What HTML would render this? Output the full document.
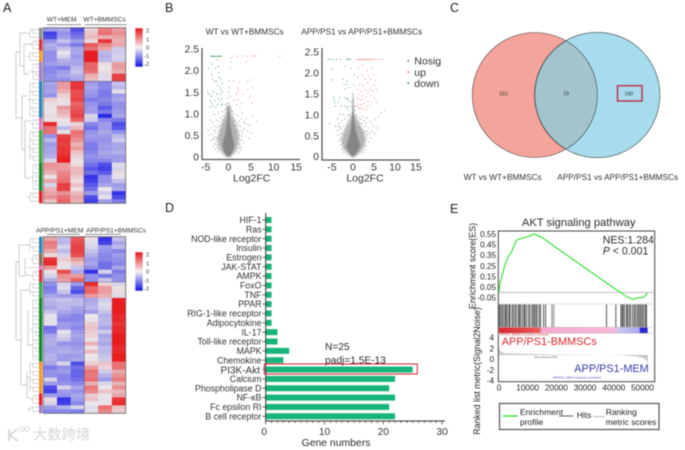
<!DOCTYPE html>
<html lang="en">
<head>
<meta charset="utf-8">
<title>Multi-panel figure</title>
<style>
html,body{margin:0;padding:0;background:#fff;width:685px;height:450px;overflow:hidden}
svg{display:block;filter:blur(0.5px)}
text{font-family:"Liberation Sans","Noto Sans CJK SC",sans-serif;fill:#2b2b2b}
.panel{font-size:12.5px;fill:#222}
.vt{font-size:10.3px;fill:#333}
.cat{font-size:8.8px;text-anchor:end;fill:#333}
.gs{font-size:8.2px;fill:#222}
.ttl{font-size:8.25px;fill:#333}
.hm{font-size:6.7px;fill:#333}
.cb{font-size:5.8px;fill:#333}
</style>
</head>
<body>
<svg id="fig" xmlns="http://www.w3.org/2000/svg" width="685" height="450" viewBox="0 0 685 450">
  <defs>
    <filter id="soft" x="-30%" y="-30%" width="160%" height="160%"><feGaussianBlur stdDeviation="1.4"/></filter>
    <filter id="softCore" x="-30%" y="-30%" width="160%" height="160%"><feGaussianBlur stdDeviation="0.6"/></filter>
  </defs>
  <text class="panel" x="3" y="12">A</text>
  <text class="panel" x="165" y="12">B</text>
  <text class="panel" x="450" y="12">C</text>
  <text class="panel" x="165" y="212">D</text>
  <text class="panel" x="450" y="213">E</text>

  <g id="panelA">
    <text class="hm" x="46.7" y="21.5">WT+MEM</text>
    <text class="hm" x="83.3" y="21.5">WT+BMMSCs</text>
    <path d="M46.7 24.7H81M85 24.7H126.7" stroke="#555" stroke-width="0.7" fill="none"/>
    <text class="hm" x="36" y="232.5">APP/PS1+MEM</text>
    <text class="hm" x="86" y="232.5">APP/PS1+BMMSCs</text>
    <path d="M46.7 234.3H80M85 234.3H120.7" stroke="#555" stroke-width="0.7" fill="none"/>
    <path fill="none" stroke="#999" stroke-width="0.5" d="M16 52V118M16 52H20M16 118H22M20 33V66M20 33H27M20 66H24M24 44H32M24 44V74M24 74H29M22 96V150M22 96H27M22 150H25M25 121V178M25 121H31M25 178H29"/>
    <path fill="none" stroke="#999" stroke-width="0.5" d="M16 262V340M16 262H19M16 340H21M19 245V276M19 245H29M19 276H25M25 258V275H30M21 290V385M21 290H28M21 385H27M27 372V398H31M28 310V345H33"/>
    <text class="cb" x="146" y="32.3">2</text>
    <text class="cb" x="146" y="41.3">1</text>
    <text class="cb" x="146" y="49.7">0</text>
    <text class="cb" x="144" y="58">-1</text>
    <text class="cb" x="144" y="66">-2</text>
    <text class="cb" x="146" y="256.7">2</text>
    <text class="cb" x="146" y="265.7">1</text>
    <text class="cb" x="146" y="273.7">0</text>
    <text class="cb" x="144" y="282.3">-1</text>
    <text class="cb" x="144" y="290.3">-2</text>
    <defs>
      <linearGradient id="cbg" x1="0" y1="0" x2="0" y2="1">
        <stop offset="0" stop-color="#e8141a"/><stop offset="0.5" stop-color="#f4f2f4"/><stop offset="1" stop-color="#1414e8"/>
      </linearGradient>
    </defs>
    <rect x="135.3" y="28.3" width="7.4" height="38.4" fill="url(#cbg)"/>
    <rect x="135.3" y="252.3" width="7.4" height="38.4" fill="url(#cbg)"/>
  </g>

  <g id="panelB">
    <text class="ttl" x="205.7" y="34.5">WT vs WT+BMMSCs</text>
    <text class="ttl" x="301.3" y="34.5">APP/PS1 vs APP/PS1+BMMSCs</text>
    <text class="vt" x="251.7" y="181.5" text-anchor="middle" style="font-size:10.5px">Log2FC</text>
    <text class="vt" x="365" y="181.5" text-anchor="middle" style="font-size:10.5px">Log2FC</text>
    <circle cx="408.3" cy="60.7" r="1" fill="#888"/>
    <circle cx="408.3" cy="72" r="1" fill="#ee6a6a"/>
    <circle cx="408.3" cy="83" r="1" fill="#2f9e4f"/>
    <text class="vt" x="414.3" y="64.5" style="font-size:10.5px">Nosig</text>
    <text class="vt" x="414.3" y="75.8" style="font-size:10.5px">up</text>
    <text class="vt" x="414.3" y="86.8" style="font-size:10.5px">down</text>
  </g>

  <g id="panelC">
    <circle cx="534.8" cy="95" r="62.5" fill="#f4a49a" stroke="#444" stroke-width="0.6"/>
    <circle cx="597.2" cy="95" r="62.7" fill="#a6dcec" stroke="#444" stroke-width="0.6"/>
    <path d="M566 40.8A62.5 62.5 0 0 1 566 149.2A62.7 62.7 0 0 1 566 40.8Z" fill="#a3c3cd" stroke="#3b4a4d" stroke-width="0.6"/>
    <text x="503.3" y="95.3" text-anchor="middle" style="font-family:'Liberation Serif',serif;font-size:5.8px">103</text>
    <text x="566" y="95.3" text-anchor="middle" style="font-family:'Liberation Serif',serif;font-size:5.8px">19</text>
    <text x="628.7" y="95.3" text-anchor="middle" style="font-family:'Liberation Serif',serif;font-size:5.8px">180</text>
    <rect x="617.5" y="85.7" width="24.5" height="15.3" fill="none" stroke="#c2203c" stroke-width="1.3"/>
    <text class="ttl" x="463.7" y="180">WT vs WT+BMMSCs</text>
    <text class="ttl" x="557.3" y="180">APP/PS1 vs APP/PS1+BMMSCs</text>
  </g>

  <g id="panelD">
    <text x="325" y="350" style="font-size:10.2px">N=25</text>
    <text x="325" y="363.5" style="font-size:10.2px">padj=1.5E-13</text>
    <text x="336" y="446" text-anchor="middle" style="font-size:10.4px">Gene numbers</text>
  </g>

  <g id="panelE">
    <text x="578.7" y="226" text-anchor="middle" style="font-size:11.2px">AKT signaling pathway</text>
    <rect x="498.3" y="231" width="156.4" height="150.7" fill="#fff" stroke="#444" stroke-width="1"/>
    <text x="602.7" y="243.7" style="font-size:10.6px">NES:1.284</text>
    <text x="602.7" y="254.7" style="font-size:10.6px"><tspan font-style="italic">P</tspan> &lt; 0.001</text>
    <text class="gs" transform="translate(475.5,266) rotate(-90)" text-anchor="middle" style="font-size:8.8px">Enrichment score(ES)</text>
    <text class="gs" transform="translate(480,371) rotate(-90)" text-anchor="middle" style="font-size:8.8px">Ranked list metric(Signal2Noise)</text>
    <text x="500" y="335.4" style="font-size:2.6px;fill:#c33">APP/PS1_BMMSCs (positively correlated)</text>
    <text x="546" y="357.8" text-anchor="middle" style="font-size:2.6px;fill:#444">Zero cross at 17907</text>
    <text x="577" y="378.6" text-anchor="middle" style="font-size:2.8px;fill:#4444cc">APP/PS1_MEM (negatively correlated)</text>
    <rect x="499.5" y="403.5" width="159.5" height="26" fill="#fff" stroke="#555" stroke-width="1.2"/>
    <line x1="502.7" x2="517.7" y1="416" y2="416" stroke="#3fe03f" stroke-width="1.5"/>
    <text class="gs" x="520" y="415" style="font-size:8.5px">Enrichment</text>
    <text class="gs" x="520" y="425" style="font-size:8.5px">profile</text>
    <line x1="559" x2="573.3" y1="416" y2="416" stroke="#333" stroke-width="0.8"/>
    <text class="gs" x="576.7" y="418" style="font-size:8.5px">Hits</text>
    <line x1="593" x2="605" y1="416.5" y2="416.5" stroke="#aaa" stroke-width="0.8"/>
    <text class="gs" x="605.7" y="415" style="font-size:8.5px">Ranking</text>
    <text class="gs" x="605.7" y="425" style="font-size:8.5px">metric scores</text>
  </g>

  <g>
    <path d="M9 429V441M9 435L18 429M9 435L18 441" fill="none" stroke="#d4d4d4" stroke-width="1.6"/>
    <circle cx="22" cy="429" r="2.2" fill="none" stroke="#d4d4d4" stroke-width="0.9"/>
    <circle cx="27" cy="429" r="2.2" fill="none" stroke="#d4d4d4" stroke-width="0.9"/>
    <text x="33" y="439.5" style="font-size:14.3px;fill:#d6d6d6">大数跨境</text>
  </g>
</svg>

<script>
/* ---------- Heatmap values (rows x 6 samples, z-scores) ---------- */
const wtHeatRows = [
[-.9,-.8,-1.6,.3,1.2,.9],[-1.7,-1,-1.4,.5,1.3,1],[-1.6,-.9,-1.2,.6,.7,.8],[-1,-.5,-.9,.2,1.8,.7],
[-.7,-.9,-1.2,1.5,1.1,.8],[-.8,-.5,-.8,1.3,.8,-.4],[-1,0,-.8,2,-.6,-.4],[-1,-.3,-.9,2,-.7,-.3],
[-1,-.7,-.8,2,-.6,-.4],[-.9,-.8,-.8,1.4,.2,.9],[-1.1,-1.2,-.6,1.4,0,.9],[-1.1,-.9,-.5,1.3,.2,.7],
[-1,-.8,-.7,.7,-.2,1.7],[-1,-1,-.8,.6,-.2,1.7],
[-.8,.9,1.8,-.9,-1.1,-.5],[-.9,.9,1.8,-.8,-1.1,-.6],[-.8,.7,1.6,-.9,-1.2,-.1],[-1,.3,1.6,-1,-1.2,-.9],
[.4,.2,1.7,-1.2,-1.1,-.8],[.2,-.1,1.4,-1,-1.2,-1],[.1,.9,1.5,-.9,-1.5,-1],[.1,.7,1.6,-.9,-1.2,-.9],
[.2,.5,1.7,-.3,-1.9,-.8],[.1,.1,1.4,-.4,-1.1,-1.2],[1.9,-.1,.3,-1.1,-.9,-1.6],[1.3,-.6,.6,-1.3,-.9,-1.5],
[1.3,.1,1.3,-1,-.8,-1],[-1,1.7,1.2,-.9,-.9,-.6],[-.6,1.8,1,-1,-1,-.4],[-.9,1.7,.7,-1.2,-.9,-.8],
[-.8,1.8,.9,-1.2,-.9,-.8],[-.8,1.8,.5,-1.1,-.8,-.7],[-.7,1.9,.3,-1,-.9,-.9],[-.3,2,.1,-1.1,-1.1,-.9],
[1,.9,.2,-1.3,-1.6,-.2],[.9,.9,.6,-1.5,-1.7,-.3],[.7,1.1,.6,-1.3,-1.5,.2],[.1,1.2,.4,-1.8,-1,-.1],
[.8,1.3,.2,-1.7,-1,-.5],[-.3,1.7,.5,-1.5,-.8,-.9],[.7,1.7,.1,-1.3,0,-.8],[.8,1,.6,-.9,-.4,-1.8],
[1,1.3,.8,-1.6,-.1,-1.6],[.5,1.4,.7,-1.7,-.9,-1.2]];
const appHeatRows = [
[.8,-.6,1.5,.1,-1.8,-.5],[1.2,-.6,1.6,-.2,-1.7,-.8],[1.1,-.3,1.7,-.3,-.9,-.6],[.8,-.6,1.7,-.5,-1,-1.1],
[.2,-.3,1.6,-.7,-1.1,-.9],[1.8,.4,.9,-.9,-1.1,-1],[1.9,.2,.5,-.8,-1.3,-1.1],[1,-.1,-.5,-1,-1.3,-.8],
[.1,1.6,-.8,-1.8,-.3,-1.2],[-.3,1,.9,-1,-1.2,-1],[-.7,.9,1.4,-1,-.5,-1],
[-1,-.3,-.9,1.9,.3,-.3],[-1.2,-.2,-1.4,1.4,.9,.1],[-1.1,-.5,-1.6,1.4,.9,.2],[-.8,-.9,-.9,.9,.7,-.2],
[-.6,-.5,-.6,-.8,-.4,2],[-.7,-.6,-.6,-.7,-.2,2],[-.8,-.6,-.8,-.6,-.3,2],[-.5,-.8,-.9,-.9,-.5,2],
[-.1,-1,-1.1,0,-.7,1.9],[-.1,-1.1,-1.1,-.1,-.6,1.9],[-.1,-.9,-1,.4,-.6,1.8],[-1.3,-.9,-1.1,.5,-.8,1.9],
[-1.2,-.1,-.9,.4,-.4,1.9],[-.8,-.3,-.8,.3,-.8,2],[-.7,-.5,-.9,.1,-.7,2],[-.7,-1,-1,.7,-.8,2],
[-.8,-.8,-.9,.1,-.6,1.9],[-.8,-.7,-.8,.6,-.6,1.9],[-.7,-.9,-.9,0,-.5,2],[-.7,-.9,-.8,.1,-.4,2],
[-.8,-.3,-1.6,.4,.5,1.3],[-1.2,-1,-1.3,.9,.3,1.3],[-1,-.9,-1.4,1.3,-.4,.8],[-1,-1.1,-1.4,1.2,-.7,1],
[-.3,-1.1,-1.3,1.3,-.9,1.2],[-.9,-1,-1.1,.7,-.3,.7],[-1.6,-.3,-.8,1.2,0,1],[-1.7,-.9,-1,1.1,.5,.6],
[-.9,-1,-.8,.4,.1,.8],[.2,-1.8,-.9,.5,-.1,1.8],[-.3,-1.7,-1.1,0,.1,1.9],[-.9,-.7,-.3,-.2,1.3,.5],
[-1.1,-1.1,-1.2,-.1,1.1,.4]];
const wtUpperRowCount = 14;
const appUpperRowCount = 11;
const wtClusterColors = ["#8c8c8c","#d8303a","#f39a2c","#a07cc5","#2d87bb","#e57ab8","#3fa84a","#128a2c","#ee1c25"];
const wtClusterRows = [3,3,3,5,9,3,8,7,3];
const appClusterColors = ["#2d87bb","#8c6d5a","#e57ab8","#d8303a","#3fa84a","#128a2c","#f39a2c","#ee1c25","#a07cc5"];
const appClusterRows = [4,3,1,3,4,16,8,3,2];

/* ---------- Volcano values: [log2FC, -log10 p] ---------- */
const v1Down = [[-3.9,2.33],[-3.7,2.33],[-3.5,2.33],[-3.3,2.33],[-3.1,2.33],[-2.9,2.33],[-2.7,2.33],[-2.5,2.33],[-2.3,2.33],[-2.1,2.33],[-1.9,2.33],[-1.7,2.33],[-1.5,2.33],[-4.4,2.05],[-3.6,2.15],[-2.4,2.25],[-2.2,2.1],[-2.8,2.05],[-2.2,1.95],[-3.7,1.9],[-3.5,1.8],[-3,1.75],[-2,1.85],[-1.6,1.8],[-1.3,1.7],[-2.6,1.75],[-1.8,1.6],[-2.4,1.65],[-1.6,1.55],[-4.6,1.5],[-4.3,1.45],[-3.8,1.4],[-3.4,1.5],[-4,1.3],[-3.7,1.25],[-3,1.3],[-2.5,1.45],[-2.2,1.35],[-1.8,1.3],[-1.4,1.35],[-1.7,1.45],[-1.2,1.5],[-4.1,1.15],[-3.5,1.18],[-2.4,1.2],[-1.6,1.2],[-1.3,1.22],[-2.8,1.15]];
const v1Up = [[1,2.33],[2,2.33],[3,2.34],[4.2,2.33],[5.2,2.34],[5.6,2.33],[6,2.34],[4,2.2],[1.2,1.75],[2.4,1.72],[4.3,1.75],[5,1.78],[2,1.6],[1.9,1.5],[2.3,1.55],[1.7,1.45],[3.2,1.45],[4.3,1.55],[5.3,1.6],[1.3,1.3],[2.2,1.32],[3,1.25],[4.8,1.4],[1.8,1.2],[2.6,1.15],[5.2,1.25]];
const v1Nosig = [[11.4,2.33],[.5,2.3],[.6,2.2],[.4,2.05],[.2,1.75],[.1,1.6],[0,1.5],[.3,1.4],[-.2,1.35],[-.4,1.25],[.2,1.25],[.5,1.15],[-.7,1.1],[-.2,1.12],[.8,1.05],[-1.3,1.05],[-2.2,1],[-3.1,.98],[1.2,1],[2,.95],[3.1,1.02],[4,.88],[6.3,.82],[-4,.85],[-3.4,.8],[-2.6,.85],[-1.8,.9],[1.6,.85],[2.4,.82],[3.4,.8],[4.8,.72],[5.4,.95],[-4.5,.62],[-3.8,.66],[-3,.7],[-2.2,.72],[2.8,.7],[3.6,.66],[4.2,.6],[5,.55],[-4.2,.5],[-3.5,.52],[-2.9,.55],[3.1,.55],[3.8,.48],[4.5,.42],[-3.9,.38],[-3.2,.4],[-2.7,.35],[2.9,.38],[3.4,.32],[-3.3,.25],[3,.22],[-2.9,.18],[2.7,.15],[-2.5,.12],[2.3,.1],[-2.2,.28],[2.2,.3],[-2.4,.45],[2.4,.5],[-1.9,.6],[2,.62],[-1.5,.75],[1.5,.72],[-1,.95],[1,.9],[-.6,1.2],[.6,1.08],
[-2.8,.62],[-2.5,.68],[-2.1,.82],[-1.7,.7],[-1.3,.85],[-3.2,.6],[-3.4,.42],[-3,.46],[-2.6,.42],[-2.1,.5],[-2.9,.3],[-2.5,.26],[-2.4,.2],[-2,.16],[-2.1,.4],[2.1,.42],[2.6,.28],[2.5,.2],[2.9,.48],[3.2,.62],[2.6,.6],[2.3,.72],[1.9,.78],[1.3,.82],[2.9,.88],[3.7,.78],[4.3,.75],[1.7,.55],[-1.7,.5],[-1.4,.62],[1.3,.6],[-1.1,.75],[1.1,.72],[-.9,.85],[.9,.8]];
const v1CoreP = [0,.05,.1,.2,.3,.4,.5,.6,.8,1,1.2];
const v1CoreLeft = [-.3,-.6,-.9,-1.2,-1.3,-1.05,-.8,-.6,-.35,-.22,-.08];
const v1CoreRight = [.3,.6,.9,1.2,1.3,1.1,.85,.65,.4,.22,.08];
const v1HaloP = [0,.1,.2,.4,.6,.8,1,1.2];
const v1HaloLeft = [-.5,-1.5,-2,-2.4,-2,-1.3,-.6,-.25];
const v1HaloRight = [.5,1.5,2,2.4,2.1,1.4,.7,.25];

const v2Down = [[-5.9,2.32],[-5.5,2.32],[-4.8,2.32],[-3.9,2.32],[-3,2.32],[-1.5,2.32],[-1.2,2.32],[-.9,2.32],[-.6,2.32],[-4.9,2.08],[-5.1,1.83],[-2.3,1.85],[-1.5,1.8],[-2.1,1.72],[-1.4,1.72],[-1.9,1.62],[-1,1.65],[-4.6,1.42],[-4.4,1.35],[-4.3,1.28],[-3.2,1.4],[-2,1.4],[-1.5,1.38],[-1.2,1.38],[-.9,1.33],[-2.9,1.2],[-4.2,1.2],[-2,1.2],[-1.5,1.15],[-1.2,1.18],[-3.5,1.3]];
const v2Up = [[1,2.32],[1.3,2.32],[1.6,2.31],[1.9,2.32],[2.2,2.31],[2.5,2.32],[2.8,2.32],[3.1,2.31],[3.4,2.32],[3.7,2.32],[4,2.31],[4.3,2.32],[4.6,2.32],[4.9,2.31],[5.3,2.32],[5.8,2.32],[6.4,2.32],[7.2,2.32],[1.3,2.1],[2.4,2.18],[3.3,2.05],[4.6,2.1],[5,1.95],[2.1,1.95],[1.2,1.9],[3.8,1.92],[2.9,1.85],[4.2,1.85],[5.4,1.82],[1.6,1.72],[3.5,1.75],[5,1.7],[2.4,1.68],[4.2,1.6],[1.1,1.6],[1.9,1.55],[2.9,1.58],[3.6,1.52],[4.8,1.55],[5.6,1.6],[1.3,1.48],[2.2,1.45],[3.1,1.42],[4.3,1.45],[5.1,1.38],[1.1,1.38],[1.7,1.35],[2.5,1.36],[3.6,1.32],[4.6,1.3],[5.6,1.3],[1.2,1.25],[1.9,1.24],[2.6,1.26],[3.2,1.2],[4,1.22],[1.3,1.16],[1.7,1.14],[2.2,1.15],[2.8,1.12],[3.4,1.13],[1,1.2]];
const v2Nosig = [[-1.9,2.15],[-.4,2.1],[.3,1.95],[.2,1.7],[-.1,1.5],[.1,1.35],[-.3,1.3],[.5,1.1],[-.9,1.1],[6.7,1.05],[7.7,1.1],[6,.95],[5.2,.88],[-3.2,1],[-2.3,1],[-3.7,.9],[-5.6,.78],[-4.2,.72],[-3.3,.78],[-2.7,.85],[-1.9,.9],[-1.2,.98],[1.6,.92],[2.4,.95],[3.3,.92],[4.1,.85],[4.9,.72],[5.7,.68],[-3.6,.62],[-2.9,.66],[-2.3,.72],[2.1,.78],[2.9,.72],[3.7,.68],[4.4,.6],[5.1,.55],[-3.9,.5],[-3.2,.52],[-2.6,.55],[2.7,.58],[3.4,.52],[4.2,.45],[-3.4,.38],[-2.8,.4],[2.9,.4],[3.7,.35],[-2.9,.28],[3.1,.25],[-2.6,.18],[2.8,.16],[-2.3,.1],[2.4,.1],[-1.6,.78],[1.5,.8],[-.8,1],[.8,.98],[-.5,1.2],[.4,1.2],
[-3,.45],[-2.5,.42],[-2.2,.5],[-2,.62],[-1.8,.68],[-1.4,.72],[-1.1,.85],[1.1,.85],[1.4,.7],[1.9,.65],[2.3,.58],[2.5,.48],[3.1,.62],[3.5,.6],[3.9,.55],[3.2,.45],[2.4,.35],[2.6,.28],[-2.4,.32],[-2.2,.24],[-2,.18],[2.1,.2],[-3.1,.7],[-3.5,.72],[2.6,.85],[3.1,.8],[4.4,.78],[1.9,.88]];
const v2CoreP = [0,.05,.1,.24,.35,.48,.6,.7,.85,1,1.25,1.5];
const v2CoreLeft = [-.3,-.6,-1,-1.6,-1.3,-.9,-.6,-.45,-.3,-.22,-.12,-.04];
const v2CoreRight = [.3,.6,1,1.7,1.5,1.1,.75,.5,.35,.25,.14,.05];
const v2HaloP = [0,.1,.25,.4,.55,.7,.85,1];
const v2HaloLeft = [-.5,-1.7,-2.5,-2.7,-2.3,-1.6,-.9,-.4];
const v2HaloRight = [.5,1.8,2.7,3,2.7,2,1.1,.5];

/* ---------- Bar chart ---------- */
const pathwayNames = ["HIF-1","Ras","NOD-like receptor","Insulin","Estrogen","JAK-STAT","AMPK","FoxO","TNF","PPAR","RIG-1-like receptor","Adipocytokine","IL-17","Toll-like receptor","MAPK","Chemokine","PI3K-Akt","Calcium","Phospholipase D","NF-κB","Fc epsilon RI","B cell receptor"];
const geneCounts = [1,1,1,1,1,1,1,1,1,1,1,1,2,2,4,3,25,22,21,22,21,22];
const geneTicks = [0,10,20,30];

/* ---------- GSEA ---------- */
const esRank = [0,350,930,2090,3250,4410,5570,6150,7900,10200,12200,14900,17770,23600,29400,35200,41000,44500,46450,48500,50300,51700];
const esScore = [0,.086,.143,.26,.34,.386,.465,.496,.512,.528,.553,.52,.465,.354,.244,.133,.023,-.04,-.066,-.05,-.047,-.009];
const esTicks = [.55,.45,.35,.25,.15,.05,-.05];
const hitRanks = [116,580,1044,1508,2088,2436,2900,3480,3828,4524,4988,5568,6032,6728,7076,7540,8120,8700,9048,9628,10324,10788,11484,11948,12412,12876,13340,14036,14500,15544,16240,37470,40710,42456,42920,43268,43732,44428,44776,45356,45820,46516,47096,47560,48140,48604,49068,49532,49996,50460,51040,51388];
const softHitRanks = [18300,18600,18900,19200];
const rankPos = [0,150,500,2000,8000,20000,30000,42000,48000,50500,51500,51900];
const rankMetric = [2.2,1.8,1.4,1.1,1,.9,.85,.75,.55,.2,-.3,-1];
const rankTicks = [4,2,0,-2,-4];
const rankAxisTicks = [0,10000,20000,30000,40000,50000];

/* ---------- Drawing ---------- */
const NS = "http://www.w3.org/2000/svg";
function mk(tag, attrs, parent){
  const e = document.createElementNS(NS, tag);
  for (const k in attrs) e.setAttribute(k, attrs[k]);
  parent.appendChild(e);
  return e;
}
function heatColor(v){
  const t = Math.max(-1, Math.min(1, v / 2));
  const mid = [234,230,234];
  const end = t > 0 ? [232,28,30] : [28,28,232];
  const a = Math.pow(Math.abs(t), 1.25);
  return "rgb(" + mid.map((m,i) => Math.round(m + (end[i]-m)*a)).join(",") + ")";
}
function drawHeat(rows, upperCount, box, colors, clusterRows, label){
  const g = document.getElementById("panelA");
  const upperH = (box.split - box.y0) / upperCount;
  const lowerH = (box.y1 - box.split) / (rows.length - upperCount);
  const rowY = i => i <= upperCount ? box.y0 + i*upperH : box.split + (i-upperCount)*lowerH;
  const colX = j => j <= 3 ? box.x0 + j*(box.xs-box.x0)/3 : box.xs + (j-3)*(box.x1-box.xs)/3;
  rows.forEach((row,i) => row.forEach((v,j) => {
    const c = mk("rect",{x:colX(j),y:rowY(i),width:colX(j+1)-colX(j)+.3,height:rowY(i+1)-rowY(i)+.3,fill:heatColor(v)},g);
    
    
  }));
  let start = 0;
  clusterRows.forEach((n,k) => {
    const s = mk("rect",{x:39,y:rowY(start),width:3.3,height:rowY(start+n)-rowY(start),fill:colors[k]},g);
    
    
    const xv = 30 + (k*3)%6;
    const y1 = rowY(start)+2, y2 = rowY(start+n)-2;
    let d = "M"+xv+" "+y1+"V"+y2;
    for (let r=0;r<n;r++){
      const ym = rowY(start+r)+2;
      d += "M"+(xv+(r%2?3:0))+" "+ym+"H39";
      if (r%2) d += "M"+(xv+3)+" "+(ym-4)+"V"+ym;
    }
    d += "M"+(xv-3)+" "+((y1+y2)/2)+"H"+xv;
    const t = mk("path",{d:d,fill:"none",stroke:"#a4a4a4","stroke-width":.45},g);
    
    
    start += n;
  });
  const f = mk("rect",{x:box.x0,y:box.y0,width:box.x1-box.x0,height:box.y1-box.y0,fill:"none",stroke:"#666","stroke-width":.8},g);
  
  
  const dash = mk("path",{d:"M"+box.x0+" "+box.split+"H"+box.x1+"M"+box.xs+" "+box.y0+"V"+box.y1,stroke:"#334",fill:"none","stroke-width":.6,"stroke-dasharray":"1.6 1.2"},g);
  
  
}
drawHeat(wtHeatRows, wtUpperRowCount, {x0:43.3,x1:125.7,xs:84,y0:27.7,y1:203.3,split:81.3}, wtClusterColors, wtClusterRows, "heatmap-wt");
drawHeat(appHeatRows, appUpperRowCount, {x0:43.3,x1:125.7,xs:84.3,y0:236.7,y1:413.3,split:282}, appClusterColors, appClusterRows, "heatmap-app");

const volcanoTicksY = [0,.5,1,1.5,2,2.5];
const volcanoTicksX = [-5,0,5,10,15];
function drawVolcano(o){
  const g = document.getElementById("panelB");
  const X = v => o.x0 + o.kx*v;
  const Y = v => o.y0 - o.ky*v;
  const band = (ps,l,r,fill,name,filt) => {
    const pts = ps.map((p,i)=>X(l[i])+","+Y(p)).concat(ps.map((p,i)=>X(r[i])+","+Y(p)).reverse()).join(" ");
    const e = mk("polygon",{points:pts,fill:fill,filter:filt},g);
    
    
  };
  band(o.haloP,o.haloL,o.haloR,"#b4b4b4","volcano-nosig-halo","url(#soft)");
  band(o.coreP,o.coreL,o.coreR,"#868686","volcano-nosig-core","url(#softCore)");
  o.gray.forEach(p => {
    const c = mk("circle",{cx:X(p[0]),cy:Y(p[1]),r:.55,fill:"#868686"},g);
    
    
  });
  o.up.forEach(p => {
    const c = mk("circle",{cx:X(p[0]),cy:Y(p[1]),r:.55,fill:"#ef7272"},g);
    
    
  });
  o.down.forEach(p => {
    const c = mk("circle",{cx:X(p[0]),cy:Y(p[1]),r:.55,fill:"#2f9a52"},g);
    
    
  });
  const axis = mk("path",{d:"M"+o.ax+" 48V"+o.ab+"H"+o.xEnd,fill:"none",stroke:"#555","stroke-width":1.3},g);
  
  
  volcanoTicksY.forEach(v => {
    const t = mk("text",{x:o.ax-3,y:Y(v)+3.7,"text-anchor":"end",class:"vt"},g);
    
    
    t.textContent = v === 0 ? "0" : v.toFixed(1);
  });
  volcanoTicksX.forEach(v => {
    const t = mk("text",{x:X(v),y:170.5,"text-anchor":"middle",class:"vt"},g);
    
    
    t.textContent = v;
  });
}
drawVolcano({x0:228.4,kx:4.52,y0:156.7,ky:43.1,ax:202,ab:159.5,xEnd:300,gray:v1Nosig,up:v1Up,down:v1Down,coreP:v1CoreP,coreL:v1CoreLeft,coreR:v1CoreRight,haloP:v1HaloP,haloL:v1HaloLeft,haloR:v1HaloRight});
drawVolcano({x0:353,kx:4.2,y0:156.5,ky:41.9,ax:322,ab:160,xEnd:420,gray:v2Nosig,up:v2Up,down:v2Down,coreP:v2CoreP,coreL:v2CoreLeft,coreR:v2CoreRight,haloP:v2HaloP,haloL:v2HaloLeft,haloR:v2HaloRight});

(function(){
  const g = document.getElementById("panelD");
  const X = v => 265.7 + 5.88*v;
  const Yc = i => 220 + i*9.347;
  geneCounts.forEach((v,i) => {
    const b = mk("rect",{x:X(0),y:Yc(i)-3,width:X(v)-X(0),height:6,fill:"#17b57a"},g);
    
    
    const k = mk("line",{x1:262.3,x2:X(0),y1:Yc(i),y2:Yc(i),stroke:"#444","stroke-width":.8},g);
    
    
    const big = pathwayNames[i] === "PI3K-Akt";
    const t = mk("text",{x:big?260:261.5,y:Yc(i)+3.1+(big?.8:0),class:"cat"},g);
    
    
    if (big) t.setAttribute("style","font-size:10px");
    t.textContent = pathwayNames[i];
  });
  const axis = mk("path",{d:"M265.7 213V421H"+X(30.5),fill:"none",stroke:"#333","stroke-width":1},g);
  
  
  for (let v=0; v<=30; v++){
    const major = geneTicks.includes(v);
    const m = mk("line",{x1:X(v),x2:X(v),y1:421,y2:major?424.5:423,stroke:"#333","stroke-width":.7},g);
    
    
  }
  geneTicks.forEach(v => {
    const t = mk("text",{x:X(v)-(v?0:1.5),y:435,"text-anchor":"middle",style:"font-size:10.2px;fill:#333"},g);
    
    
    t.textContent = v;
  });
  const box = mk("rect",{x:264.3,y:364,width:153,height:10,fill:"none",stroke:"#d81f2f","stroke-width":1},g);
  
  
})();

(function(){
  const g = document.getElementById("panelE");
  const X = r => 499 + .00287*r;
  const ES = s => 292.4 - 105.7*s;
  const RK = v => 359.3 - 5.4*v;
  const rankBase = .8;

  const bandGrad = mk("linearGradient",{id:"gseaBand",x1:0,x2:1,y1:0,y2:0},g);
  [["0","#d8262c"],["0.27","#ea5a5a"],["0.29","#f7a8d0"],["0.78","#f9b8da"],["0.8","#c8c8ee"],["0.945","#a8a8ee"],["0.95","#2a2ad0"],["1","#2a2ad0"]].forEach(s => {
    mk("stop",{offset:s[0],"stop-color":s[1]},bandGrad);
  });
  const band = mk("rect",{x:X(0),y:327.3,width:X(51800)-X(0),height:6,fill:"url(#gseaBand)"},g);
  
  

  const sep = mk("path",{d:"M498.3 304H654.7M498.3 327.3H654.7M498.3 333.3H654.7",stroke:"#bbb","stroke-width":.5,fill:"none"},g);
  
  

  const zero = mk("line",{x1:498.3,x2:654.7,y1:ES(0),y2:ES(0),stroke:"#aaa","stroke-width":.7},g);
  
  

  softHitRanks.forEach(r => {
    const l = mk("line",{x1:X(r),x2:X(r),y1:304.5,y2:327,stroke:"#b0b0b0","stroke-width":.9},g);
    
    
  });
  hitRanks.forEach(r => {
    const l = mk("line",{x1:X(r),x2:X(r),y1:304.5,y2:327,stroke:"#222","stroke-width":.75},g);
    
    
  });

  const es = mk("polyline",{points:esRank.map((r,i)=>X(r)+","+ES(esScore[i])).join(" "),fill:"none",stroke:"#3fe03f","stroke-width":1.2},g);
  
  

  let area = X(0)+","+RK(rankBase)+" ";
  area += rankPos.map((r,i)=>X(r)+","+RK(rankMetric[i])).join(" ");
  area += " "+X(rankPos[rankPos.length-1])+","+RK(rankBase);
  const ra = mk("polygon",{points:area,fill:"#c4c4c4"},g);
  
  

  esTicks.forEach(s => {
    const t = mk("text",{x:496,y:ES(s)+2.8,"text-anchor":"end",class:"gs"},g);
    
    
    t.textContent = s.toFixed(2);
  });
  rankTicks.forEach(v => {
    const t = mk("text",{x:494,y:RK(v)+2.8,"text-anchor":"end",class:"gs"},g);
    
    
    t.textContent = v;
  });
  rankAxisTicks.forEach(r => {
    const t = mk("text",{x:X(r),y:390.5,"text-anchor":"middle",class:"gs"},g);
    
    
    t.textContent = r;
  });
  const red = mk("text",{x:501.7,y:344.8,style:"font-size:10.9px;fill:#d8282f"},g);
  
  
  red.textContent = "APP/PS1-BMMSCs";
  const blue = mk("text",{x:574.3,y:372.2,style:"font-size:10.9px;fill:#3a3aa8"},g);
  
  
  blue.textContent = "APP/PS1-MEM";
})();
</script>
</body>
</html>
